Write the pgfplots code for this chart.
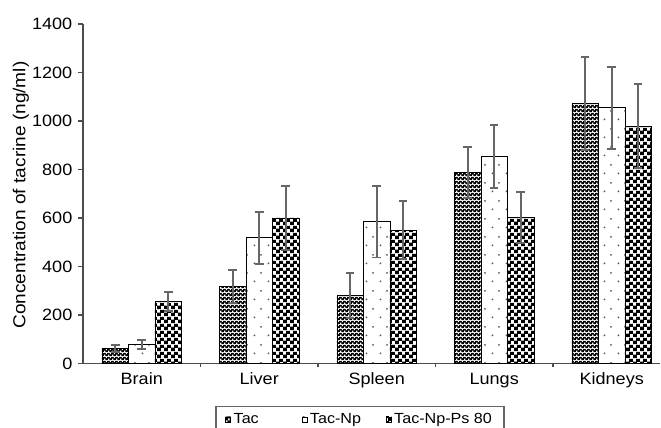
\documentclass[border=0pt]{standalone}
\usepackage{fontspec}
\setmainfont[FakeStretch=1.1]{Liberation Sans}
\usepackage{pgfplots}
\usepackage{pgfplotstable}
\pgfplotsset{compat=1.18}
\usetikzlibrary{patterns}

\pgfdeclarepatterninherentlycolored{tacpat}{\pgfpointorigin}{\pgfqpoint{3pt}{3pt}}{\pgfqpoint{3pt}{3pt}}{%
  \pgfsetfillcolor{black}%
  \pgfpathrectangle{\pgfpointorigin}{\pgfqpoint{3pt}{3pt}}\pgfusepath{fill}%
  \pgfsetfillcolor{white}%
  \pgfpathrectangle{\pgfqpoint{0.2pt}{0.2pt}}{\pgfqpoint{1.1pt}{1.1pt}}\pgfusepath{fill}%
  \pgfpathrectangle{\pgfqpoint{1.7pt}{1.7pt}}{\pgfqpoint{1.1pt}{1.1pt}}\pgfusepath{fill}%
}
\pgfdeclarepatterninherentlycolored{npat}{\pgfpointorigin}{\pgfqpoint{10.5pt}{13.5pt}}{\pgfqpoint{10.5pt}{13.5pt}}{%
  \pgfsetfillcolor{white}%
  \pgfpathrectangle{\pgfpointorigin}{\pgfqpoint{10.5pt}{13.5pt}}\pgfusepath{fill}%
  \pgfsetfillcolor{black!65}%
  \pgfpathcircle{\pgfqpoint{2pt}{2pt}}{0.8pt}\pgfusepath{fill}%
  \pgfpathcircle{\pgfqpoint{7.25pt}{8.75pt}}{0.8pt}\pgfusepath{fill}%
}
\pgfdeclarepatterninherentlycolored{pspat}{\pgfpointorigin}{\pgfqpoint{5.25pt}{5.25pt}}{\pgfqpoint{5.25pt}{5.25pt}}{%
  \pgfsetfillcolor{black}%
  \pgfpathrectangle{\pgfpointorigin}{\pgfqpoint{5.25pt}{5.25pt}}\pgfusepath{fill}%
  \pgfsetfillcolor{white}%
  \pgfpathrectangle{\pgfqpoint{0.15pt}{0.15pt}}{\pgfqpoint{2.35pt}{2.35pt}}\pgfusepath{fill}%
  \pgfpathrectangle{\pgfqpoint{2.775pt}{2.775pt}}{\pgfqpoint{2.35pt}{2.35pt}}\pgfusepath{fill}%
}

\pgfplotstableread{
x y e
0 62 15
1 318 68
2 280 92
3 788 106
4 1072 193
}\tac
\pgfplotstableread{
x y e
0 78 20
1 518 107
2 584 147
3 852 130
4 1054 170
}\tacnp
\pgfplotstableread{
x y e
0 255 40
1 600 133
2 550 120
3 602 106
4 979 172
}\tacnpps

\begin{document}
\begin{tikzpicture}
\begin{axis}[
  width=432.75pt, height=254.55pt, scale only axis,
  at={(0,0)}, anchor=south west,
  xmin=-0.5, xmax=4.411, ymin=0, ymax=1400,
  axis x line=bottom, axis y line=left,
  axis line style={-, black!70, line width=0.9pt},
  ybar=0pt, bar width=19.875pt,
  xtick={0,1,2,3,4},
  xticklabels={Brain,Liver,Spleen,Lungs,Kidneys},
  major x tick style={draw=none},
  minor xtick={0.5,1.5,2.5,3.5},
  minor x tick style={black!70, line width=0.9pt},
  minor tick length=3pt,
  ytick={0,200,...,1400},
  major y tick style={black!70, line width=0.9pt},
  major tick length=3.5pt,
  tick align=outside,
  tick label style={font=\fontsize{12.3}{14}\selectfont},
  /pgf/number format/assume math mode=true,
  /pgf/number format/1000 sep={},
  yticklabel style={xshift=-1pt},
  xticklabel style={yshift=0pt},
  ylabel={Concentration of tacrine (ng/ml)},
  ylabel style={font=\fontsize{13}{15}\selectfont, at={(axis description cs:-0.1075,0.496)}, anchor=center},
  legend columns=3,
  legend style={at={(axis description cs:0.4801,-0.1255)}, anchor=north,
    draw=black!60, line width=0.9pt, font=\fontsize{11}{13}\selectfont,
    inner xsep=7pt, inner ysep=3pt},
  legend image code/.code={\draw[#1, line width=0.4pt] (0pt,-1.9pt) rectangle (3.8pt,1.9pt);},
  error bars/y dir=both, error bars/y explicit,
  error bars/error bar style={black!60, line width=1.3pt},
  error bars/error mark options={rotate=90, mark size=3.2pt, black!60, line width=1.3pt},
]
\addplot[draw=black, line width=0.6pt, pattern=tacpat] table[x=x, y=y, y error=e]{\tac};
\addlegendentry{\makebox[49pt][l]{Tac}}
\addplot[draw=black, line width=0.6pt, pattern=npat] table[x=x, y=y, y error=e]{\tacnp};
\addlegendentry{\makebox[55pt][l]{Tac-Np}}
\addplot[draw=black, line width=0.6pt, pattern=pspat] table[x=x, y=y, y error=e]{\tacnpps};
\addlegendentry{Tac-Np-Ps 80}
\end{axis}
\pgfresetboundingbox
\path[use as bounding box] (-62.25pt,-48.45pt) rectangle (433.5pt,272.55pt);
\end{tikzpicture}
\end{document}
